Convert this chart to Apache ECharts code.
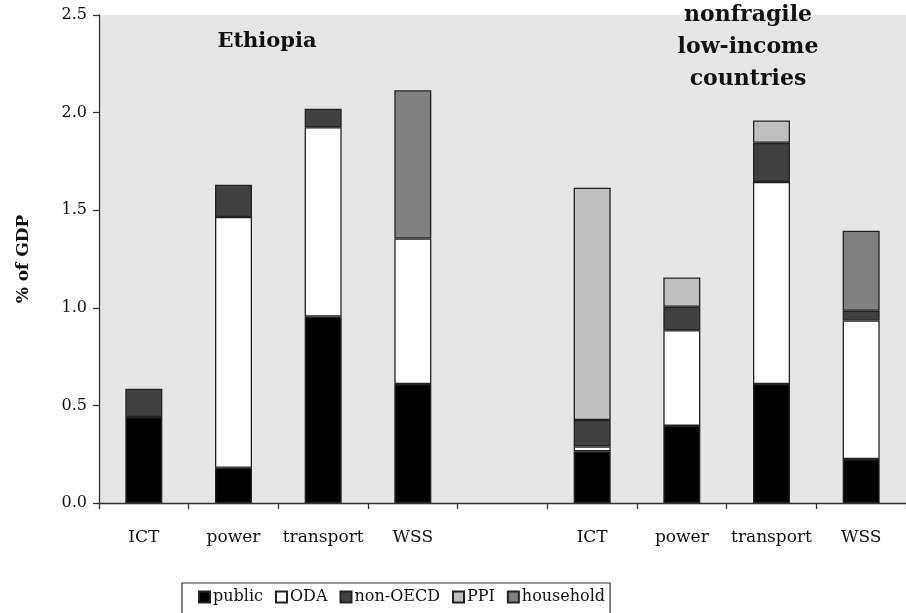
<!DOCTYPE html>
<html>
<head>
<meta charset="utf-8">
<script src="https://cdn.jsdelivr.net/npm/echarts@6/dist/echarts.min.js"></script>
<style>
html,body{margin:0;padding:0;background:#fff;}
#chart{width:906px;height:613px;}
</style>
</head>
<body>
<div id="chart"></div>
<script>
// Categories: Ethiopia group, blank spacer, nonfragile low-income group
var categories = ['ICT', 'power', 'transport', 'WSS', '', 'ICT', 'power', 'transport', 'WSS'];
var publicVals    = [0.44, 0.18, 0.955, 0.61, null, 0.265, 0.395, 0.61, 0.225];
var odaVals       = [null, 1.285, 0.97, 0.745, null, 0.025, 0.49, 1.035, 0.71];
var nonOecdVals   = [0.145, 0.165, 0.095, null, null, 0.135, 0.12, 0.2, 0.05];
var ppiVals       = [null, null, null, null, null, 1.19, 0.15, 0.115, null];
var householdVals = [null, null, null, 0.76, null, null, null, null, 0.41];
var seriesNames = ['public', 'ODA', 'non-OECD', 'PPI', 'household'];
var yTicks = [0, 0.5, 1.0, 1.5, 2.0, 2.5];
var groupTitles = ['Ethiopia', 'nonfragile\nlow-income\ncountries'];

var FONT = '"DejaVu Serif", "Liberation Serif", serif';
var colors = ['#000000', '#ffffff', '#404040', '#bfbfbf', '#808080'];
var allVals = [publicVals, odaVals, nonOecdVals, ppiVals, householdVals];

var chart = echarts.init(document.getElementById('chart'), null, {renderer: 'canvas'});

var series = seriesNames.map(function (name, i) {
  return {
    name: name,
    type: 'bar',
    stack: 'total',
    barWidth: 37,
    data: allVals[i],
    itemStyle: {color: colors[i], borderColor: '#222', borderWidth: 1.3},
    emphasis: {disabled: true}
  };
});

chart.setOption({
  animation: false,
  backgroundColor: '#ffffff',
  grid: {
    left: 99, top: 15, width: 815, height: 488,
    show: true, backgroundColor: '#e6e6e6', borderWidth: 0,
    containLabel: false
  },
  xAxis: {
    type: 'category',
    data: categories,
    axisLine: {show: true, lineStyle: {color: '#333', width: 1.3}},
    axisTick: {show: true, length: 6, lineStyle: {color: '#333', width: 1.3}},
    axisLabel: {color: '#111', fontFamily: FONT, fontSize: 17, margin: 26, interval: 0}
  },
  yAxis: {
    type: 'value',
    min: yTicks[0], max: yTicks[yTicks.length - 1], interval: 0.5,
    name: '% of GDP',
    nameLocation: 'middle',
    nameGap: 67,
    nameRotate: 90,
    nameTextStyle: {color: '#111', fontFamily: FONT, fontSize: 17, fontWeight: 'bold'},
    splitLine: {show: false},
    axisLine: {show: true, lineStyle: {color: '#333', width: 1.3}},
    axisTick: {show: true, length: 6, lineStyle: {color: '#333', width: 1.3}},
    axisLabel: {
      color: '#111', fontFamily: FONT, fontSize: 16, margin: 12,
      formatter: function (v) { return v.toFixed(1); }
    }
  },
  legend: {
    data: seriesNames,
    left: 182, top: 583,
    padding: [6, 5, 20, 16],
    itemGap: 12,
    itemWidth: 11, itemHeight: 11,
    borderColor: '#333', borderWidth: 1.2, borderRadius: 0,
    icon: 'rect',
    textStyle: {color: '#111', fontFamily: FONT, fontSize: 16, padding: [0, 0, 0, -2]},
    selectedMode: false
  },
  graphic: [
    {type: 'text', x: 267, y: 42, z: 10,
     style: {text: groupTitles[0], align: 'center', verticalAlign: 'middle',
             fontFamily: FONT, fontSize: 21, fontWeight: 'bold', fill: '#111'}},
    {type: 'text', x: 748, y: 47, z: 10,
     style: {text: groupTitles[1], align: 'center', verticalAlign: 'middle',
             fontFamily: FONT, fontSize: 22, fontWeight: 'bold', fill: '#111', lineHeight: 32}}
  ],
  series: series
});
</script>
</body>
</html>
